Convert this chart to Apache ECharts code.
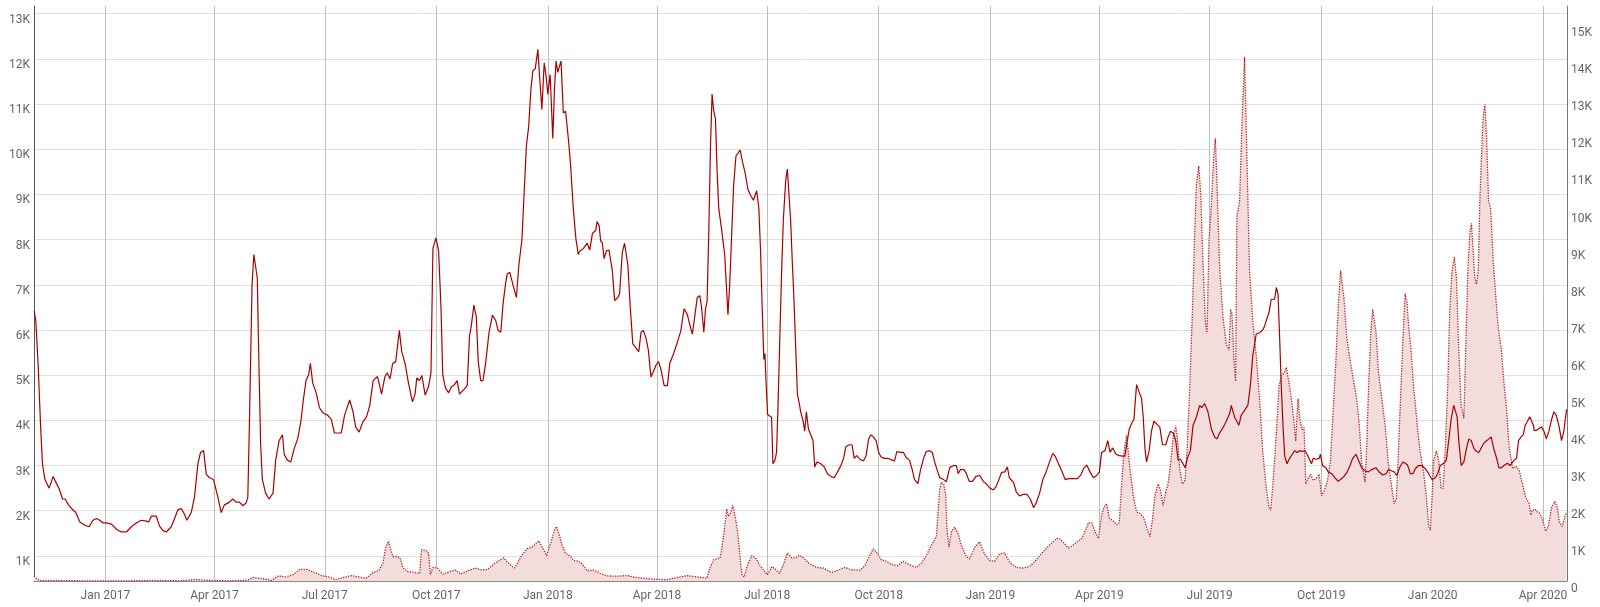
<!DOCTYPE html>
<html><head><meta charset="utf-8">
<script src="https://cdn.jsdelivr.net/npm/echarts@6/dist/echarts.min.js"></script>
<style>html,body{margin:0;padding:0;background:#fff}#c{width:1600px;height:607px}</style>
</head><body><div id="c"></div>
<script>
// x values are days since 2017-01-01
const quarterDays = [0,90,181,273,365,455,546,638,730,820,911,1003,1095,1186];
const quarterLabels = ['Jan 2017','Apr 2017','Jul 2017','Oct 2017','Jan 2018','Apr 2018','Jul 2018','Oct 2018','Jan 2019','Apr 2019','Jul 2019','Oct 2019','Jan 2020','Apr 2020'];
const leftTicks = [1000,2000,3000,4000,5000,6000,7000,8000,9000,10000,11000,12000,13000];
const rightTicks = [0,1000,2000,3000,4000,5000,6000,7000,8000,9000,10000,11000,12000,13000,14000,15000];

const lineSeries = [
[-58.7,6420],[-57.4,6200],[-55.4,5180],[-53.5,3900],[-51.9,3035],[-49.9,2690],[-46.4,2500],[-43.1,2760],[-40.3,2600],[-38.1,2480],[-35.4,2260],[-33.2,2260],[-30.5,2130],[-28.0,2050],[-24.4,1960],[-21.1,1750],[-17.0,1680],[-13.4,1645],[-10.2,1790],[-7.4,1830],[-4.7,1790],[-1.9,1730],[0.8,1730],[4.9,1705],[9.1,1590],[13.2,1530],[17.3,1530],[21.4,1645],[25.5,1730],[29.6,1790],[33.8,1770],[35.7,1750],[37.9,1880],[42.0,1880],[44.7,1660],[47.5,1560],[50.2,1530],[54.3,1645],[57.1,1830],[59.8,2020],[62.6,2050],[65.3,1920],[67.2,1790],[70.8,1960],[73.5,2300],[76.3,3035],[78.5,3290],[81.0,3330],[83.2,2810],[85.9,2730],[89.2,2690],[92.8,2300],[95.5,1960],[98.2,2130],[102.4,2190],[105.1,2260],[107.8,2190],[110.6,2190],[113.3,2110],[116.1,2170],[117.5,2300],[118.8,3900],[121.0,7000],[122.5,7670],[123.9,7670],
[125.3,7150],[126.7,5180],[128.1,3460],[129.5,2690],[132.2,2390],[135.0,2260],[136.4,2220],[138.3,2390],[140.5,3120],[143.3,3550],[146.1,3680],[147.5,3250],[150.2,3120],[153.0,3080],[155.8,3380],[158.6,3590],[161.3,3980],[163.3,4450],[165.5,4880],[167.7,5010],[169.1,5260],[171.0,4830],[173.8,4620],[176.6,4280],[179.3,4170],[183.5,4110],[186.3,4020],[189.0,3720],[191.8,3720],[194.6,3720],[197.3,4110],[201.5,4450],[204.3,4190],[206.5,3850],[209.3,3740],[212.6,3980],[215.4,4070],[218.1,4330],[220.9,4880],[224.5,4970],[227.8,4580],[230.6,4970],[232.5,5050],[234.8,4920],[237.0,5260],[239.5,5300],[242.5,5990],[244.5,5520],[247.2,5260],[250.0,4830],[253.3,4410],[255.5,4580],[256.9,4940],[259.1,4880],[261.1,4990],[263.8,4560],[266.6,4750],[268.6,5050],[270.2,7800],[272.7,8040],[274.9,7750],[276.9,6460],[278.3,5010],[280.5,4720],[283.2,4610],[285.5,4750],[288.0,4790],[290.2,4880],[292.1,4580],[295.7,4680],[298.5,4770],[300.4,5870],[301.8,6080],[304.0,6550],[306.0,6290],[307.6,5300],[309.6,4880],[311.5,4880],[313.7,5260],[316.5,5950],[319.3,6330],[322.0,6210],[324.0,5990],[326.2,5950],[328.1,6590],[330.3,7060],
[331.5,7240],[333.6,7280],[336.4,6980],[339.1,6720],[341.0,7410],[343.7,8020],[345.6,9120],[347.3,10070],[349.2,10500],[351.1,11350],[352.7,11740],[354.6,11780],[356.8,12210],[358.2,11610],[360.1,10880],[362.0,11910],[363.6,11610],[365.0,11220],[366.9,11650],[369.1,10240],[370.5,11350],[371.8,11950],[373.2,11700],[374.5,11830],[375.9,11950],[377.8,10800],[379.7,10840],[381.9,10240],[383.8,9640],[386.0,8690],[388.2,8010],[390.1,7670],[391.5,7750],[394.2,7800],[397.5,7920],[399.6,7770],[401.8,8140],[404.5,8200],[405.6,8400],[407.3,8310],[408.6,7970],[410.0,7920],[411.4,7580],[413.3,7750],[415.4,7770],[418.2,7320],[420.1,6650],[422.8,6720],[424.2,6800],[426.4,7710],[428.3,7920],[431.0,7450],[432.9,6550],[435.1,5690],[437.8,5600],[440.0,5520],[441.9,5950],[443.8,5990],[446.0,5820],[447.9,5560],[450.1,4960],[452.3,5090],[454.2,5220],[456.4,5300],[458.3,5130],[461.0,4770],[463.7,4770],[465.6,5260],[468.4,5450],[470.0,5450],[471.9,5730],[474.6,5970],[477.4,6470],[480.1,6340],[482.0,6130],[484.2,5910],[486.4,6340],[488.3,6720],[490.4,6760],[491.8,6510],[493.7,5950],[495.1,6470],[496.4,6640],[497.8,8180],[499.2,10070],[500.5,11220],[501.9,10840],[503.3,10670],[504.6,9560],[506.0,8690],[508.2,8260],[510.9,7670],[513.6,6340],[515.0,6980],[516.9,8260],[518.3,9210],[520.2,9850],[521.8,9890],[523.7,9980],[525.6,9720],[527.8,9470],[530.0,9120],[531.9,9000],[534.6,8870],[537.3,9080],
[539.1,8690],[540.5,7750],[541.9,6460],[543.2,5350],[544.1,5480],[545.2,4750],[546.3,4130],[547.9,4170],[549.6,4070],[550.7,3040],[552.4,3120],[553.7,3290],[555.1,4500],[556.5,5950],[557.9,7320],[559.3,8440],[561.2,9300],[562.6,9560],[564.0,9560],[565.3,8440],[566.7,7500],[568.1,6640],[569.5,5600],[570.9,4580],[572.2,4410],[573.6,4190],[575.6,3980],[576.9,3760],[578.3,4190],[580.0,3810],[581.9,3680],[583.8,3550],[585.2,2970],[586.9,3080],[590.2,3040],[593.0,2970],[595.7,2820],[598.5,2760],[601.2,2730],[604.0,2860],[606.8,3000],[609.0,3160],[610.9,3420],[613.7,3460],[615.9,3460],[617.8,3160],[619.8,3220],[622.5,3140],[625.3,3100],[627.5,3210],[629.7,3590],[631.6,3680],[633.6,3630],[635.8,3550],[638.0,3290],[639.9,3190],[642.7,3160],[645.4,3160],[646.8,3190],[649.0,3120],[651.0,3100],[652.9,3310],[655.7,3290],[658.4,3290],[660.6,3180],[663.4,3120],[665.6,2910],[667.5,2690],[670.3,2600],[672.5,2910],[675.0,3160],[677.2,3310],[680.0,3330],[682.2,3290],[684.1,3080],[686.1,2910],[688.3,2730],[691.0,2700],[693.8,2640],[696.6,2960],[699.9,3000],[702.1,3000],[703.5,2820],[705.4,2910],[708.2,2910],[710.4,2820],[712.6,2650],[715.3,2650],[718.1,2760],[721.4,2780],[724.2,2650],[726.9,2590],[729.7,2500],[732.5,2460],[734.7,2530],[736.6,2650],[739.4,2850],[742.1,2860],[744.1,2970],[745.7,2730],
[746.5,2690],[749.3,2620],[751.5,2410],[754.2,2330],[757.0,2360],[760.2,2360],[763.0,2260],[765.7,2070],[767.9,2170],[770.7,2390],[773.4,2690],[776.1,2860],[779.4,3120],[781.6,3270],[783.5,3210],[786.3,3040],[789.0,2880],[791.8,2690],[794.5,2710],[798.1,2710],[801.9,2710],[804.6,2790],[807.4,2950],[809.6,3010],[812.3,2860],[815.1,2730],[817.8,2780],[820.0,2860],[821.9,3290],[824.7,3330],[826.9,3550],[828.8,3290],[831.0,3390],[833.7,3250],[836.4,3220],[839.2,3210],[841.1,3210],[842.5,3460],[844.7,3810],[846.6,3930],[848.5,4020],[850.7,4790],[852.9,4620],[854.8,4490],[856.2,4070],[857.6,3380],[858.9,3080],[861.1,3330],[863.0,3760],[865.0,3980],[867.7,3910],[869.9,3850],[872.1,3460],[874.8,3460],[876.7,3630],[878.7,3760],[880.9,3720],[883.0,3550],[885.0,3120],[886.9,3140],[889.1,3040],[890.7,2950],[892.6,3160],[895.1,3330],[897.3,3890],[900.0,4070],[902.8,4330],[904.4,4280],[906.9,4370],[909.6,4190],[912.4,3810],[915.1,3630],[917.0,3590],[919.2,3720],[921.4,3810],[924.7,3980],[927.5,4150],[928.8,4330],[931.6,4070],[935.1,3890],[937.0,4110],[939.8,4220],[942.5,4330],[944.5,4750],[946.6,5440],[949.4,5910],
[952.2,5940],[954.4,5990],[956.3,6080],[958.2,6250],[959.9,6380],[961.8,6680],[963.2,6720],[964.6,6680],[966.0,6940],[967.4,6800],[968.8,5780],[970.1,4750],[971.5,3890],[972.9,3210],[974.8,3040],[977.0,3160],[979.2,3250],[981.2,3330],[983.1,3290],[985.3,3330],[987.5,3310],[989.5,3330],[991.4,3250],[993.6,3120],[995.0,3040],[996.4,3160],[999.1,3140],[1001.3,3160],[1002.4,3250],[1004.1,3000],[1006.9,2950],[1008.8,2860],[1011.6,2820],[1014.3,2730],[1017.1,2650],[1019.0,2690],[1021.8,2760],[1024.5,2860],[1026.8,3000],[1029.0,3160],[1031.7,3250],[1033.7,3120],[1036.4,2950],[1039.2,2880],[1042.0,2860],[1044.7,2910],[1048.3,2950],[1051.1,2850],[1053.8,2790],[1056.6,2820],[1058.5,2910],[1061.3,2880],[1063.2,2860],[1065.4,2780],[1067.6,2950],[1070.4,3080],[1072.3,3050],[1074.3,3010],[1076.5,2820],[1078.7,2820],[1080.6,2930],[1083.4,3000],[1086.1,3000],[1088.9,2930],[1091.7,2820],[1094.4,2690],[1097.2,2730],[1099.1,2820],[1101.3,3000],[1104.1,3050],[1106.3,3120],[1108.2,3550],[1110.2,4020],[1112.4,4330],[1113.8,4330],[1115.2,4070],[1116.5,3550],[1118.5,3000],[1120.7,3080],[1122.9,3380],[1124.8,3590],[1126.8,3550],[1129.0,3380],[1131.2,3310],[1133.1,3290],[1135.0,3390],[1137.3,3500],[1139.5,3550],[1141.4,3590],[1143.3,3630],[1145.5,3360],[1147.8,3160],[1149.7,2950],[1151.6,2950],[1153.8,3000],[1156.6,3050],[1158.8,3000],
[1160.4,3040],[1162.3,3120],[1164.2,3160],[1165.8,3550],[1167.8,3630],[1169.7,3680],[1171.3,3890],[1173.2,3980],[1175.1,4080],[1176.7,4110],[1178.1,3890],[1178.7,3780],[1180.6,3780],[1182.7,3820],[1184.9,3850],[1186.8,3760],[1188.7,3590],[1190.9,3760],[1193.1,4020],[1195.0,4190],[1196.9,4110],[1199.1,3890],[1201.3,3550],[1203.2,3760],[1205.4,4240]
];

const areaSeries = [
[-58.9,140],[-56.3,50],[-53.4,12],[-40,8],[-20,6],[0,6],[20,6],[40,8],[60,10],[68,20],[72,35],[76,38],[80,25],[89.7,10],[100,10],[110,12],[116.2,15],[122.1,92],[128,73],[136.9,18],[142.8,138],[148.7,110],[154.6,165],[160.5,312],[166.4,312],[172.3,230],[178.2,147],[184.1,110],[190,37],[195.9,92],[203.2,147],[209.1,110],[215,73],[220.9,230],[225.4,275],[228.9,478],[231.3,900],[233.6,1074],[235.7,826],[237.2,661],[240.7,661],[243.1,624],[245.4,367],[249,257],[254.9,230],[259.3,202],[260.8,854],[265.2,808],[266.7,735],[268.1,184],[270.2,367],[274,349],[278.5,184],[284.4,257],[288.8,294],[293.2,184],[299.1,275],[305,349],[310.9,294],[315.3,312],[321.2,478],[328.6,624],[333,459],[337.5,349],[343.4,689],[347.8,872],[352.2,918],[357.5,1084],[361.1,872],[364,689],[367.7,1056],[370.5,1377],[372.1,1469],[374.1,1286],[376.8,964],[379.5,753],[383.7,661],[386.4,551],[390.5,533],[393.3,459],[397.4,275],[402.9,294],[408.4,202],[413.8,138],[422.1,129],[430.3,147],[438.5,92],[446.8,64],[455,46],[463.2,37],[471.5,92],[479.7,147],[487.9,110],[496.2,73],[498.9,367],[501.7,569],[507.2,624],[509.9,1194],[512.6,1947],[514,1745],[515.9,1855],[517.6,2039],[519.5,1745],[521.4,1377],[523.1,826],[525,184],[526.9,110],[529.7,413],[533.2,689],[536.8,597],[540.1,413],[543.4,275],[546.1,165],[549.7,386],[552.4,331],[556,202],[559.3,441],[562.6,753],[566.2,624],[568.9,624],[572.5,689],[575.8,624],[581.2,459],[586.7,367],[592.2,349],[599.1,230],[604.6,294],[610.1,367],[615.5,303],[622.4,294],[626.5,413],[630.6,689],[633.4,872],[636.7,753],[640.2,569],[644.4,533],[648.5,441],[654,413],[658.1,533],[660.8,478],[665,413],[669.1,367],[673.2,478],[677.3,689],[681.4,964],[685.5,1194],[686.9,1837],[688.3,2479],[689.6,2663],[691.6,2617],[693.2,2342],[694.3,1377],[696,918],[697.9,1331],[700.6,1451],[703.4,1286],[706.1,964],[710.2,661],[713,597],[717.1,900],[721.2,1056],[725.3,735],[729.4,551],[733.6,533],[737.7,735],[741.8,753],[745.9,505],[751.4,367],[756.9,349],[762.4,386],[767.9,569],[773.3,781],[778.8,964],[784.9,1150],[787.7,1130],[791.8,990],[794.5,890],[797.2,940],[801.4,1050],[805.5,1150],[808.2,1340],[811,1570],[813.7,1570],[816.4,1340],[819.2,1150],[821.9,1780],[823.8,1990],[826,2090],[828.2,1700],[831.5,1620],[834.3,1520],[836.4,1570],[838.4,2620],[840.3,3460],[842.5,3930],[845.2,3040],[848,2300],[850.7,1860],[853.4,1830],[856.2,1730],[858.9,1470],[861.7,1200],[863.9,1680],[865.8,2300],[868.5,2620],[870.4,2460],[872.6,2040],[874.8,2410],[876.7,2620],[878.7,3140],[880.9,3870],[883,4190],[885,3660],[886.3,3040],[888.5,2620],[890.7,2720],[892.4,3560],[894.6,5240],[896.8,7330],[898.7,9420],[900,10680],[902,11200],[903.6,10470],[905.5,8590],[907.4,7020],[908.8,6700],[910.5,9210],[912.4,10160],[914.3,11410],[915.7,11940],[917,10790],[919.2,8480],[922,7120],[924.7,6390],[926.9,6230],[928.3,7330],[929.4,7230],[931,5970],[932.4,5390],[933.5,9840],[935.7,10260],[937.9,12570],[939.8,14140],[941.7,11520],[943.9,8380],[946.6,7000],[949.4,6100],[952.2,4900],[954.9,3460],[957.7,2510],[959.9,1990],[961.3,1910],[963.2,2620],[966,3980],[968.2,5240],[970.1,5550],[972.1,5600],[974.3,5760],[976.5,5340],[978.4,4920],[980.3,4400],[982,3770],[983.9,4920],[985.3,4400],[987.3,4080],[988.9,4140],[990.3,2620],[992.2,2770],[994.2,2880],[996.4,2720],[999.1,2770],[1001.3,2880],[1003.3,2300],[1005.2,2410],[1008,2670],[1010.7,3250],[1012.9,4610],[1015.2,5970],[1017.1,7430],[1019,8380],[1020.4,8380],[1021.8,7640],[1024,6600],[1026.8,5970],[1029.5,5450],[1032.3,4920],[1034.5,4190],[1036.4,3190],[1039.2,2670],[1040.6,3660],[1042,5130],[1043.9,6700],[1045.5,7330],[1046.6,7330],[1048.3,6700],[1050.2,5650],[1053,4920],[1055.8,4190],[1058.5,3140],[1061.3,2510],[1063.2,2090],[1064.9,2200],[1066.3,3140],[1068.2,4710],[1070.4,6490],[1072.3,7750],[1073.7,7540],[1075.1,6910],[1077,6280],[1079.2,5240],[1080.6,4820],[1082.6,4080],[1084.8,3460],[1087.5,2930],[1089.7,2300],[1091.7,1470],[1093.1,1380],[1094.4,2200],[1095.8,3250],[1098,3510],[1100,3250],[1101.9,2510],[1103.6,2490],[1105.5,3660],[1107.4,5240],[1109.1,7330],[1111,8380],[1112.9,8740],[1114.6,8170],[1116.5,6280],[1118.5,4710],[1120.7,4400],[1122.1,6070],[1124,8380],[1125.7,9420],[1127,9650],[1128.4,8900],[1129.8,8170],[1131.2,8010],[1132.6,8380],[1133.9,10260],[1135.3,11520],[1136.7,12570],[1138.1,12860],[1139.5,11940],[1141.1,10260],[1142.8,10050],[1145,8590],[1146.9,7750],[1148.9,6910],[1150.5,6490],[1151.6,6280],[1153.8,5340],[1156,4610],[1158,3660],[1159.4,3350],[1160.9,3040],[1163.7,3090],[1166.4,2980],[1169.1,2620],[1171.8,2250],[1174.6,2090],[1175.9,1780],[1177.3,1910],[1179.5,1940],[1181.4,1860],[1183.3,1830],[1185.5,1680],[1188.2,1340],[1190.4,1470],[1193.1,1990],[1195.8,2150],[1197.7,1990],[1199.6,1570],[1201.8,1470],[1204,1730],[1205.4,1860]
];

const chart = echarts.init(document.getElementById('c'), null, {renderer: 'canvas'});
const labelFont = {color: '#666', fontSize: 12, fontFamily: 'Roboto'};
chart.setOption({
  animation: false,
  grid: {left: 34, right: 33, top: 6, bottom: 26, containLabel: false},
  xAxis: {
    type: 'value', min: -58.9, max: 1205.8,
    axisLine: {show: true, onZero: false, lineStyle: {color: '#888', width: 1}},
    axisTick: {show: false, customValues: quarterDays},
    axisLabel: Object.assign({customValues: quarterDays, margin: 9,
      formatter: function (v) { const i = quarterDays.indexOf(v); return i >= 0 ? quarterLabels[i] : ''; }}, labelFont),
    splitLine: {show: true, lineStyle: {color: '#bdbdbd', width: 1}}
  },
  yAxis: [{
    type: 'value', position: 'left', min: 445, max: 13170,
    axisLine: {show: true, onZero: false, lineStyle: {color: '#555', width: 1}},
    axisTick: {show: false, customValues: leftTicks},
    axisLabel: Object.assign({customValues: leftTicks, margin: 4, verticalAlign: 'top',
      formatter: function (v) { return (v / 1000) + 'K'; }}, labelFont),
    splitLine: {show: true, lineStyle: {color: '#e0e0e0', width: 1}}
  }, {
    type: 'value', position: 'right', min: 0, max: 15520,
    axisLine: {show: true, onZero: false, lineStyle: {color: '#777', width: 1}},
    axisTick: {show: false, customValues: rightTicks},
    axisLabel: Object.assign({customValues: rightTicks, margin: 4, verticalAlign: 'top', padding: [2, 0, 0, 0],
      formatter: function (v) { return v === 0 ? '0' : (v / 1000) + 'K'; }}, labelFont),
    splitLine: {show: false}
  }],
  series: [{
    type: 'line', yAxisIndex: 1, data: areaSeries, symbol: 'none', z: 2,
    lineStyle: {type: 'dotted', color: '#b82020', width: 1.3},
    areaStyle: {color: '#f2dcdc', opacity: 1}
  }, {
    type: 'line', yAxisIndex: 0, data: lineSeries, symbol: 'none', z: 3,
    lineStyle: {color: '#a80000', width: 1.2}
  }]
});
</script>
</body></html>
